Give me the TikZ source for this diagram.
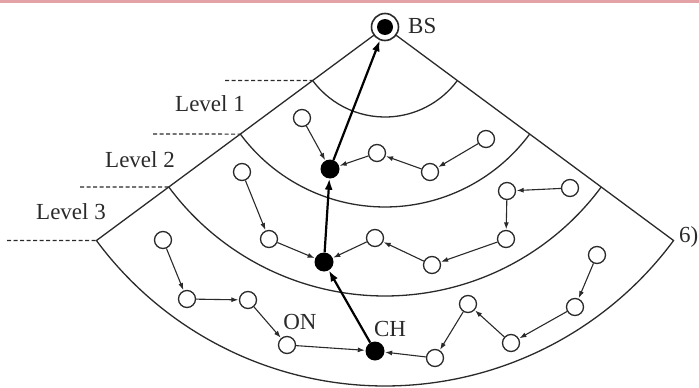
\documentclass[tikz,border=0pt]{standalone}
\usepackage{fontspec}
\setmainfont{Liberation Serif}
\usetikzlibrary{arrows.meta}
\definecolor{ink}{HTML}{2A2A2A}
\definecolor{topline}{HTML}{E3A3A6}
\begin{document}
\begin{tikzpicture}[x=1pt,y=-1pt,
  every node/.style={font=\fontsize{23}{26}\selectfont, text=ink},
  onode/.style={circle, draw=ink, line width=1.3pt, fill=white, minimum size=17pt, inner sep=0pt},
  chnode/.style={circle, fill=black, minimum size=19pt, inner sep=0pt},
  link/.style={draw=ink, line width=1.1pt, -{Latex[length=7pt,width=5pt]}, shorten >=0.5pt},
  uplink/.style={draw=black, line width=2.2pt, -{Latex[length=11pt,width=8pt]}},
  zone/.style={draw=ink, line width=1.3pt},
  level/.style={draw=ink, line width=1.1pt, dash pattern=on 4pt off 2.5pt}]
\useasboundingbox (0,0) rectangle (699,388);
\fill[topline] (0,0) rectangle (699,2.5);
\coordinate (apex) at (385,27);
% sector and level arcs
\draw[zone] (apex) -- ++(143.5:359) coordinate (c4) arc[start angle=143.5, end angle=36.5, radius=359] coordinate (d4) -- cycle;
\path (apex) ++(143.5:90) coordinate (c1);
\path (apex) ++(143.5:180) coordinate (c2);
\path (apex) ++(143.5:269) coordinate (c3);
\draw[zone] (c1) arc[start angle=143.5, end angle=36.5, radius=90];
\draw[zone] (c2) arc[start angle=143.5, end angle=36.5, radius=180];
\draw[zone] (c3) arc[start angle=143.5, end angle=36.5, radius=269];
% dashed level markers
\coordinate (e1) at (225,80.5);
\coordinate (e2) at (153,134);
\coordinate (e3) at (80,187);
\coordinate (e4) at (7,240.5);
\draw[level] (e1) -- (c1);
\draw[level] (e2) -- (c2);
\draw[level] (e3) -- (c3);
\draw[level] (e4) -- (c4);
\node (l1) at (210,104) {Level 1};
\node (l2) at (140,160) {Level 2};
\node (l3) at (71,212) {Level 3};
% base station
\node[circle, draw=ink, line width=1.6pt, fill=white, minimum size=27pt, inner sep=0pt] (bs) at (apex) {};
\node[circle, fill=black, minimum size=16pt, inner sep=0pt] (bsin) at (apex) {};
\node[anchor=west, inner sep=0pt] (bslab) at (408,26) {BS};
\node[anchor=west, inner sep=0pt] (six) at (679,237) {6)};
% level 1
\node[chnode] (h1) at (330,169) {};
\node[onode] (a1) at (302,118) {};
\node[onode] (b1) at (377,153) {};
\node[onode] (b2) at (430,172) {};
\node[onode] (b3) at (486,139) {};
% level 2
\node[chnode] (h2) at (324,262) {};
\node[onode] (g1) at (242,172) {};
\node[onode] (g2) at (269,239) {};
\node[onode] (k1) at (375,238) {};
\node[onode] (k2) at (432,265) {};
\node[onode] (k3) at (506,239) {};
\node[onode] (k4) at (507,191) {};
\node[onode] (k5) at (570,188) {};
% level 3
\node[chnode] (h3) at (375,351) {};
\node[onode] (m1) at (163,240) {};
\node[onode] (m2) at (187,299) {};
\node[onode] (m3) at (248,300) {};
\node[onode] (on) at (287,345) {};
\node[onode] (n1) at (435,358) {};
\node[onode] (n2) at (468,304) {};
\node[onode] (n3) at (511,343) {};
\node[onode] (n4) at (575,307) {};
\node[onode] (n5) at (597,255) {};
\node (onlab) at (300,322) {ON};
\node (chlab) at (390,329) {CH};
% links
\draw[link] (a1) -- (h1);
\draw[link] (b1) -- (h1);
\draw[link] (b2) -- (b1);
\draw[link] (b3) -- (b2);
\draw[link] (g1) -- (g2);
\draw[link] (g2) -- (h2);
\draw[link] (k1) -- (h2);
\draw[link] (k2) -- (k1);
\draw[link] (k3) -- (k2);
\draw[link] (k4) -- (k3);
\draw[link] (k5) -- (k4);
\draw[link] (m1) -- (m2);
\draw[link] (m2) -- (m3);
\draw[link] (m3) -- (on);
\draw[link] (on) -- (h3);
\draw[link] (n1) -- (h3);
\draw[link] (n2) -- (n1);
\draw[link] (n3) -- (n2);
\draw[link] (n4) -- (n3);
\draw[link] (n5) -- (n4);
% cluster-head uplinks
\draw[uplink] (h3) -- (h2);
\draw[uplink] (h2) -- (h1);
\draw[uplink] (h1) -- (bs);
\end{tikzpicture}
\end{document}
